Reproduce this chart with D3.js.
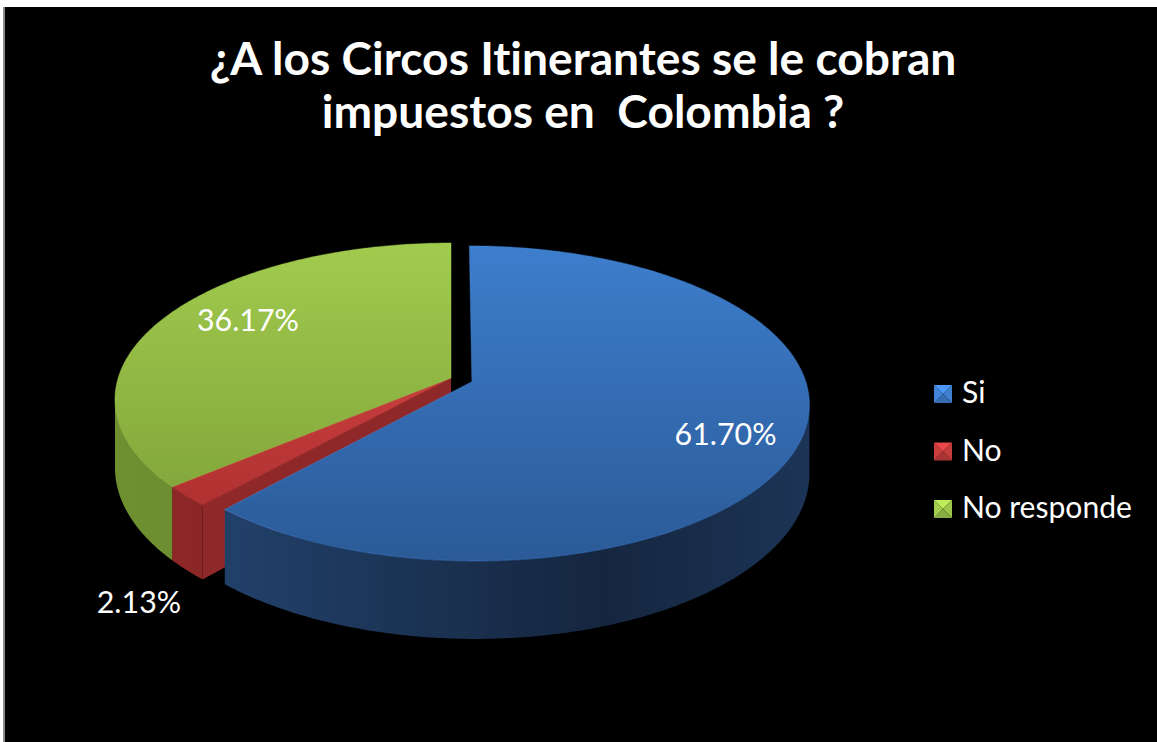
<!DOCTYPE html>
<html>
<head>
<meta charset="utf-8">
<script src="https://cdn.jsdelivr.net/npm/d3@7"></script>
<style>
  body { margin: 0; background: #fff; }
  svg { display: block; }
  text { font-family: Lato, "Open Sans", sans-serif; fill: #fff; white-space: pre; font-variant-ligatures: none; font-feature-settings: "liga" 0, "dlig" 0; }
</style>
</head>
<body>
<svg id="chart" width="1157" height="742"></svg>
<script>
// data
var categories = ["Si", "No", "No responde"];
var values = [61.70, 2.13, 36.17];
var valueLabels = ["61.70%", "2.13%", "36.17%"];
var titleLines = ["¿A los Circos Itinerantes se le cobran", "impuestos en  Colombia ?"];

// styles
var topColors = [["#3d7ecd", "#2b5a97"], ["#c73e3d", "#b03131"], ["#a1cb4e", "#84a83c"]];
var wallColors = [["#254876", "#15263f", "#1c3456"], ["#8f2828", "#7c2020", "#7c2020"], ["#6f9031", "#5c7b27", "#5c7b27"]];
var legendColors = ["#3f7fcf", "#c43c3c", "#9dc64b"];
var explode = [0.067, 0, 0];
var labelPlace = [
  { r: 0.78, h: 0, dy: 8 },
  { r: 1.16, h: 1, dy: 10 },
  { r: 0.70, h: 0, dy: -14 }
];

(function() {
  var W = 1157, H = 742;
  var svg = d3.select("#chart");

  // background
  svg.append("rect").attr("x", 5).attr("y", 7).attr("width", W - 5).attr("height", H - 7).attr("fill", "#000");
  svg.append("rect").attr("x", 3).attr("y", 7).attr("width", 2).attr("height", H - 7).attr("fill", "#8c8c8c");

  var defs = svg.append("defs");

  // 3d pie geometry (simple perspective)
  var cx = 451, cy = 378, rxs = 332.8, rys = 153.5, persp = 0.1374, depth = 67;

  function pt(theta, r, off, h) {
    var X = off[0] + r * Math.sin(theta),
      Z = off[1] + r * Math.cos(theta);
    var w = 1 + persp * Z;
    return [cx + rxs * X / w, cy - rys * Z / w + depth * h / w];
  }

  function arcPts(a0, a1, off, h) {
    var n = Math.max(2, Math.ceil((a1 - a0) / 0.01));
    return d3.range(n + 1).map(function(i) { return pt(a0 + (a1 - a0) * i / n, 1, off, h); });
  }

  var line = d3.line().curve(d3.curveLinearClosed);

  var arcs = d3.pie().sort(null).value(function(d) { return d; })(values);
  arcs.forEach(function(a, i) {
    var mid = (a.startAngle + a.endAngle) / 2;
    a.off = [explode[i] * Math.sin(mid), explode[i] * Math.cos(mid)];
    a.mid = mid;
  });

  // gradients
  arcs.forEach(function(a, i) {
    var g = defs.append("linearGradient").attr("id", "top" + i)
      .attr("x1", 0).attr("y1", 0).attr("x2", 0).attr("y2", 1);
    g.append("stop").attr("offset", "0%").attr("stop-color", topColors[i][0]);
    g.append("stop").attr("offset", "100%").attr("stop-color", topColors[i][1]);

    var s = defs.append("linearGradient").attr("id", "wall" + i)
      .attr("gradientUnits", "userSpaceOnUse")
      .attr("x1", 115).attr("y1", 0).attr("x2", 810).attr("y2", 0);
    s.append("stop").attr("offset", "0%").attr("stop-color", wallColors[i][0]);
    s.append("stop").attr("offset", "70%").attr("stop-color", wallColors[i][1]);
    s.append("stop").attr("offset", "100%").attr("stop-color", wallColors[i][2]);
  });

  var pieG = svg.append("g").attr("class", "pie");
  var n = arcs.length;

  // radial walls (only where a neighbour is pulled out)
  arcs.forEach(function(a, i) {
    var walls = [];
    if (Math.sin(a.startAngle) < -0.01 && (explode[i] || explode[(i + n - 1) % n])) walls.push(a.startAngle);
    if (Math.sin(a.endAngle) > 0.01 && (explode[i] || explode[(i + 1) % n])) walls.push(a.endAngle);
    walls.forEach(function(ang) {
      pieG.append("path")
        .attr("d", line([pt(ang, 0, a.off, 0), pt(ang, 1, a.off, 0), pt(ang, 1, a.off, 1), pt(ang, 0, a.off, 1)]))
        .attr("fill", wallColors[i][0]);
    });
  });

  // outer walls, front half only
  var visA0 = Math.acos(-persp), visA1 = 2 * Math.PI - Math.acos(-persp);
  arcs.forEach(function(a, i) {
    var t0 = Math.max(a.startAngle, visA0), t1 = Math.min(a.endAngle, visA1);
    if (t1 <= t0) return;
    var pts = arcPts(t0, t1, a.off, 0).concat(arcPts(t0, t1, a.off, 1).reverse());
    pieG.append("path")
      .attr("d", line(pts))
      .attr("fill", "url(#wall" + i + ")");
  });

  // top faces
  arcs.forEach(function(a, i) {
    var pts = [pt(0, 0, a.off, 0)].concat(arcPts(a.startAngle, a.endAngle, a.off, 0));
    pieG.append("path")
      .attr("d", line(pts))
      .attr("fill", "url(#top" + i + ")")
      .attr("stroke", d3.color(topColors[i][0]).brighter(0.3))
      .attr("stroke-opacity", 0.35)
      .attr("stroke-width", 1.2);
  });

  // value labels
  var labels = svg.append("g").attr("class", "labels");
  arcs.forEach(function(a, i) {
    var p = pt(a.mid, labelPlace[i].r, a.off, labelPlace[i].h);
    labels.append("text")
      .attr("x", p[0]).attr("y", p[1] + labelPlace[i].dy)
      .attr("dy", "0.35em")
      .attr("text-anchor", "middle")
      .attr("font-size", 28)
      .text(valueLabels[i]);
  });
  var lt = labels.select("text");
  var lfs = 28 * 102 / lt.node().getComputedTextLength();
  labels.selectAll("text").attr("font-size", lfs);

  // title
  var title = svg.append("g").attr("class", "title");
  title.selectAll("text").data(titleLines).enter().append("text")
    .attr("x", 583)
    .attr("y", function(d, i) { return 75 + i * 53; })
    .attr("text-anchor", "middle")
    .attr("font-weight", "bold")
    .attr("font-size", 46)
    .text(function(d) { return d; });
  var tfs = 46 * 747 / title.select("text").node().getComputedTextLength();
  title.selectAll("text").attr("font-size", tfs);

  // legend
  var legend = svg.append("g").attr("class", "legend").attr("transform", "translate(934,385)");
  var item = legend.selectAll("g").data(categories).enter().append("g")
    .attr("transform", function(d, i) { return "translate(0," + (i * 57.5) + ")"; });
  var s = 18, c = s / 2;
  item.each(function(d, i) {
    var g = d3.select(this), col = d3.color(legendColors[i]);
    var tris = [
      [[0, 0], [s, 0], [c, c], col.brighter(0.5)],
      [[s, 0], [s, s], [c, c], col],
      [[s, s], [0, s], [c, c], col.darker(0.4)],
      [[0, s], [0, 0], [c, c], col.brighter(0.1)]
    ];
    tris.forEach(function(t) {
      g.append("path").attr("d", line([t[0], t[1], t[2]])).attr("fill", t[3]);
    });
    g.append("text")
      .attr("x", 28).attr("y", 18)
      .attr("font-size", 26)
      .text(d);
  });
  var lastT = legend.selectAll("text").filter(function(d, i) { return i === 2; });
  var gfs = 26 * 170 / lastT.node().getComputedTextLength();
  legend.selectAll("text").attr("font-size", gfs);
})();
</script>
</body>
</html>
